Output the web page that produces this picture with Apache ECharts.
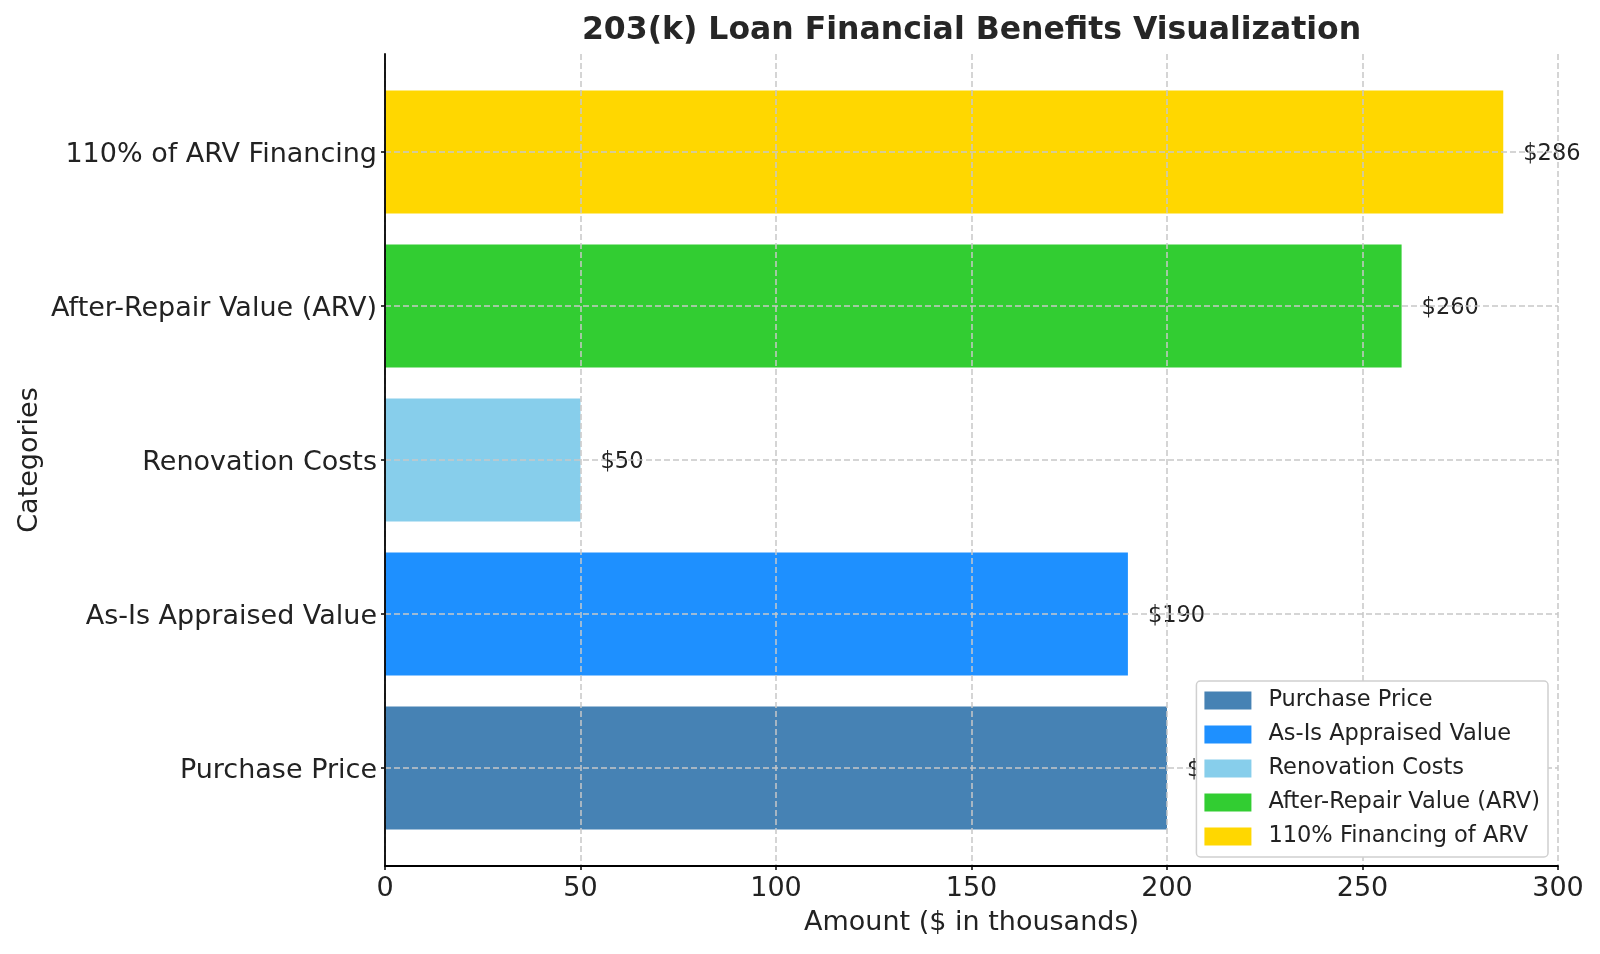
<!DOCTYPE html>
<html>
<head>
<meta charset="utf-8">
<title>203(k) Loan Financial Benefits Visualization</title>
<script src="https://cdn.jsdelivr.net/npm/echarts@6/dist/echarts.min.js"></script>
<style>
  html, body { margin: 0; padding: 0; background: #fff; }
  #chart { width: 1600px; height: 954px; }
</style>
</head>
<body>
<div id="chart"></div>
<script>
// categories, bottom to top
const categories = ['Purchase Price', 'As-Is Appraised Value', 'Renovation Costs', 'After-Repair Value (ARV)', '110% of ARV Financing'];
const values = [200, 190, 50, 260, 286];
const legendNames = ['Purchase Price', 'As-Is Appraised Value', 'Renovation Costs', 'After-Repair Value (ARV)', '110% Financing of ARV'];
const colors = ['#4682B4', '#1E90FF', '#87CEEB', '#32CD32', '#FFD700'];
const xTicks = { min: 0, max: 300, step: 50 };

const FONT = 'DejaVu Sans';
const gridColor = '#c8c8c8';
const gridDash = [6, 3];

const chart = echarts.init(document.getElementById('chart'));

// one series per bar so every bar gets its own legend entry
const series = categories.map((cat, i) => ({
  name: legendNames[i],
  type: 'bar',
  stack: 'one',
  xAxisIndex: 1,
  yAxisIndex: 1,
  barCategoryGap: '20%',
  itemStyle: { color: colors[i] },
  data: values.map((v, j) => (j === i ? v : '-')),
  label: {
    show: true,
    position: 'right',
    distance: 20,
    fontFamily: FONT,
    fontSize: 22.5,
    color: '#222',
    verticalAlign: 'top',
    lineHeight: 4,
    formatter: p => '$' + p.value
  },
  emphasis: { disabled: true }
}));

// horizontal grid lines at the category centres (drawn over the bars like the original)
series[0].markLine = {
  silent: true,
  symbol: ['none', 'none'],
  z: 5,
  label: { show: false },
  lineStyle: { color: gridColor, type: gridDash, width: 1.5 },
  emphasis: { disabled: true },
  data: categories.map(c => ({ yAxis: c }))
};

const option = {
  animation: false,
  backgroundColor: '#fff',
  title: {
    text: '203(k) Loan Financial Benefits Visualization',
    left: 971.5,
    top: 15,
    padding: 0,
    textAlign: 'center',
    textStyle: { fontFamily: FONT, fontSize: 31.5, fontWeight: 'bold', color: '#262626' }
  },
  legend: {
    orient: 'vertical',
    right: 52,
    top: 681,
    z: 10,
    padding: [8, 8, 9, 8],
    itemGap: 11,
    itemWidth: 47,
    itemHeight: 18,
    backgroundColor: '#fff',
    borderColor: '#d0d0d0',
    borderWidth: 1.5,
    borderRadius: 4,
    icon: 'rect',
    selectedMode: false,
    textStyle: { fontFamily: FONT, fontSize: 22.5, color: '#222', padding: [0, 0, 0, 12], lineHeight: 22 }
  },
  grid: [
    // full plot frame: spines, x ticks, vertical grid lines
    { left: 385, right: 42, top: 54, bottom: 88 },
    // bar bands, inset like matplotlib's margins
    { left: 385, right: 42, top: 75, bottom: 109 }
  ],
  xAxis: [
    {
      gridIndex: 0,
      type: 'value',
      min: xTicks.min,
      max: xTicks.max,
      interval: xTicks.step,
      z: 5,
      name: 'Amount ($ in thousands)',
      nameLocation: 'middle',
      nameGap: 43,
      nameTextStyle: { fontFamily: FONT, fontSize: 27, color: '#222' },
      axisLine: { show: true, lineStyle: { color: '#000', width: 1.8 } },
      axisTick: { show: true, length: 4, lineStyle: { color: '#000', width: 1.5 } },
      axisLabel: { fontFamily: FONT, fontSize: 27, color: '#222', margin: 9 },
      splitLine: { show: true, lineStyle: { color: gridColor, type: gridDash, width: 1.5 } }
    },
    {
      gridIndex: 1,
      type: 'value',
      min: xTicks.min,
      max: xTicks.max,
      show: false
    }
  ],
  yAxis: [
    {
      gridIndex: 0,
      type: 'value',
      min: 0,
      max: 1,
      z: 5,
      name: 'Categories',
      nameLocation: 'middle',
      nameGap: 342,
      nameTextStyle: { fontFamily: FONT, fontSize: 27, color: '#222' },
      axisLine: { show: true, lineStyle: { color: '#000', width: 1.8 } },
      axisTick: { show: false },
      axisLabel: { show: false },
      splitLine: { show: false }
    },
    {
      gridIndex: 1,
      type: 'category',
      data: categories,
      axisLine: { show: false },
      axisTick: { show: true, alignWithLabel: true, length: 4, lineStyle: { color: '#000', width: 1.5 } },
      axisLabel: { fontFamily: FONT, fontSize: 27, color: '#222', margin: 8, verticalAlign: 'top', lineHeight: 6 },
      splitLine: { show: false }
    }
  ],
  series: series
};

chart.setOption(option);
</script>
</body>
</html>
